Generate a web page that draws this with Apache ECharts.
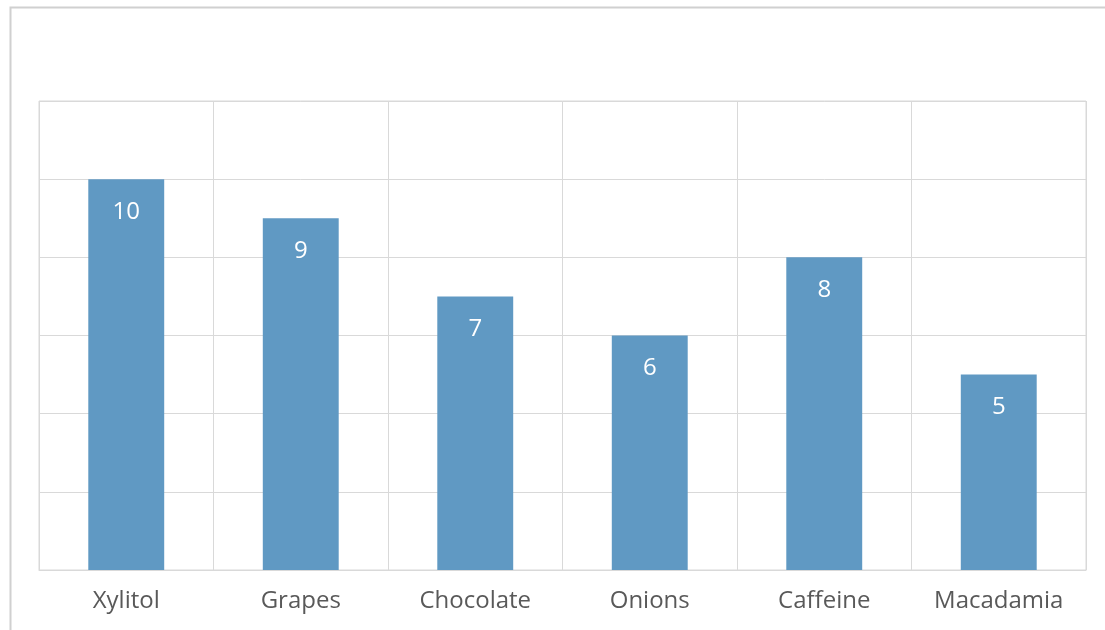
<!DOCTYPE html>
<html>
<head>
<meta charset="utf-8">
<script src="https://cdn.jsdelivr.net/npm/echarts@6/dist/echarts.min.js"></script>
<style>
html,body{margin:0;padding:0;background:#fff;}
#chart{width:1105px;height:630px;}
</style>
</head>
<body>
<div id="chart"></div>
<script>
var categories = ["Xylitol", "Grapes", "Chocolate", "Onions", "Caffeine", "Macadamia"];
var values = [10, 9, 7, 6, 8, 5];
var yMin = 0, yMax = 12, yInterval = 2;

var chart = echarts.init(document.getElementById('chart'), null, {renderer: 'canvas'});
chart.setOption({
  animation: false,
  backgroundColor: '#fff',
  graphic: [{
    type: 'rect', left: 8, top: 5,
    shape: {width: 1110, height: 700},
    style: {fill: 'none', stroke: '#d0d0d0', lineWidth: 2},
    silent: true
  }],
  grid: {left: 39, right: 19, top: 101, bottom: 60, show: true, borderColor: '#d9d9d9', borderWidth: 1},
  xAxis: {
    type: 'category',
    data: categories,
    axisLine: {show: true, lineStyle: {color: '#d9d9d9'}},
    axisTick: {show: false},
    splitLine: {show: true, lineStyle: {color: '#d9d9d9'}},
    axisLabel: {color: '#595959', fontSize: 24, fontFamily: 'Open Sans', margin: 19}
  },
  yAxis: {
    type: 'value', min: yMin, max: yMax, interval: yInterval,
    axisLabel: {show: false},
    axisLine: {show: false},
    axisTick: {show: false},
    splitLine: {lineStyle: {color: '#d9d9d9'}}
  },
  series: [{
    type: 'bar',
    data: values,
    barWidth: '43.5%',
    itemStyle: {color: '#6099c3'},
    label: {show: true, position: 'insideTop', distance: 21, color: '#fff', fontSize: 24, fontFamily: 'Open Sans'}
  }]
});
</script>
</body>
</html>
